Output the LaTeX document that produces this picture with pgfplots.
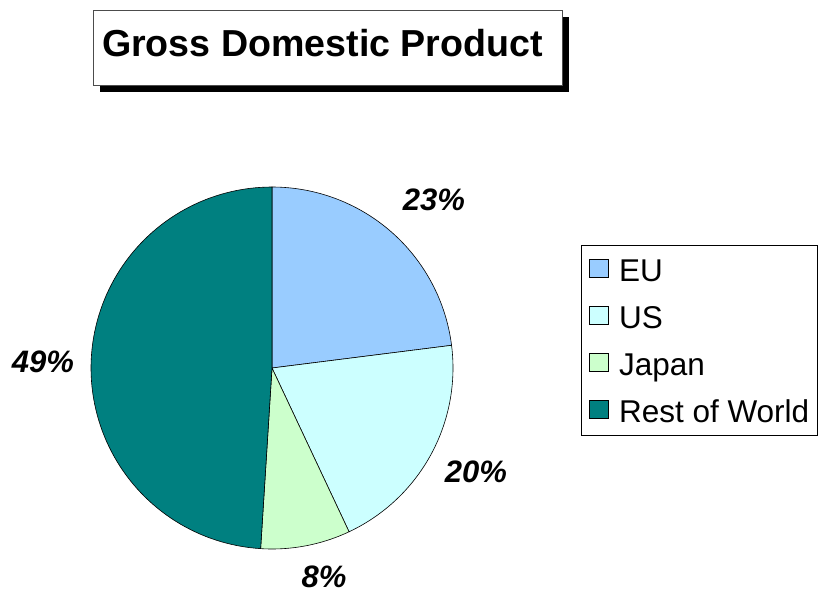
\documentclass[border=0pt]{standalone}
\usepackage{fontspec}
\setmainfont{Liberation Sans}
\usepackage{pgfplots}
\pgfplotsset{compat=1.18}
\definecolor{cEU}{HTML}{99CCFF}
\definecolor{cUS}{HTML}{CCFFFF}
\definecolor{cJP}{HTML}{CCFFCC}
\definecolor{cRW}{HTML}{008080}
% shares (percent)
\def\vEU{23}
\def\vUS{20}
\def\vJP{8}
\def\vRW{49}
\def\cx{272}
\def\cy{224}
\def\R{181}
\begin{document}
\begin{tikzpicture}
\begin{axis}[
  x=1pt, y=1pt,
  xmin=0, xmax=818, ymin=0, ymax=592,
  hide axis, clip=false,
  legend cell align=left,
  legend image code/.code={\draw[#1,draw=black,line width=0.6pt] (0pt,-7.5pt) rectangle (19pt,11pt);},
  legend style={
    at={(axis cs:581,347)}, anchor=north west,
    draw=black, line width=0.8pt,
    inner xsep=8pt, inner ysep=9pt,
    row sep=16pt, column sep=10pt,
    font=\fontsize{31.5}{31.5}\selectfont,
    nodes={inner sep=0pt, text height=27pt, text depth=4pt, line width=0.6pt},
  },
]
% title box with shadow
\fill[black] (axis cs:100,500) rectangle (axis cs:569,575);
\filldraw[fill=white, draw=black!70, line width=0.8pt] (axis cs:93,507) rectangle (axis cs:562,582);
\node[anchor=base, font=\bfseries\fontsize{37.6}{38}\selectfont] at (axis cs:322.5,535) {Gross Domestic Product};

% pie slices (clockwise from top)
\addplot[fill=cEU, draw=black, line width=0.6pt, domain={90-3.6*\vEU}:{90}, samples=60, variable=\t]
  ({\cx+\R*cos(\t)},{\cy+\R*sin(\t)}) -- (axis cs:\cx,\cy) -- cycle;
\addlegendentry{EU}
\addplot[fill=cUS, draw=black, line width=0.6pt, domain={90-3.6*(\vEU+\vUS)}:{90-3.6*\vEU}, samples=60, variable=\t]
  ({\cx+\R*cos(\t)},{\cy+\R*sin(\t)}) -- (axis cs:\cx,\cy) -- cycle;
\addlegendentry{US}
\addplot[fill=cJP, draw=black, line width=0.6pt, domain={90-3.6*(\vEU+\vUS+\vJP)}:{90-3.6*(\vEU+\vUS)}, samples=30, variable=\t]
  ({\cx+\R*cos(\t)},{\cy+\R*sin(\t)}) -- (axis cs:\cx,\cy) -- cycle;
\addlegendentry{Japan}
\addplot[fill=cRW, draw=black, line width=0.6pt, domain={90-3.6*(\vEU+\vUS+\vJP+\vRW)}:{90-3.6*(\vEU+\vUS+\vJP)}, samples=100, variable=\t]
  ({\cx+\R*cos(\t)},{\cy+\R*sin(\t)}) -- (axis cs:\cx,\cy) -- cycle;
\addlegendentry{Rest of World}

% data labels
\begin{scope}[every node/.style={anchor=base, font=\bfseries\itshape\fontsize{31}{31}\selectfont}]
\node at (axis cs:434,381) {23\%};
\node at (axis cs:476,110) {20\%};
\node at (axis cs:324,5) {8\%};
\node at (axis cs:43,220) {49\%};
\end{scope}
\path (axis cs:0,0) rectangle (axis cs:818,592);
\end{axis}
\end{tikzpicture}
\end{document}
